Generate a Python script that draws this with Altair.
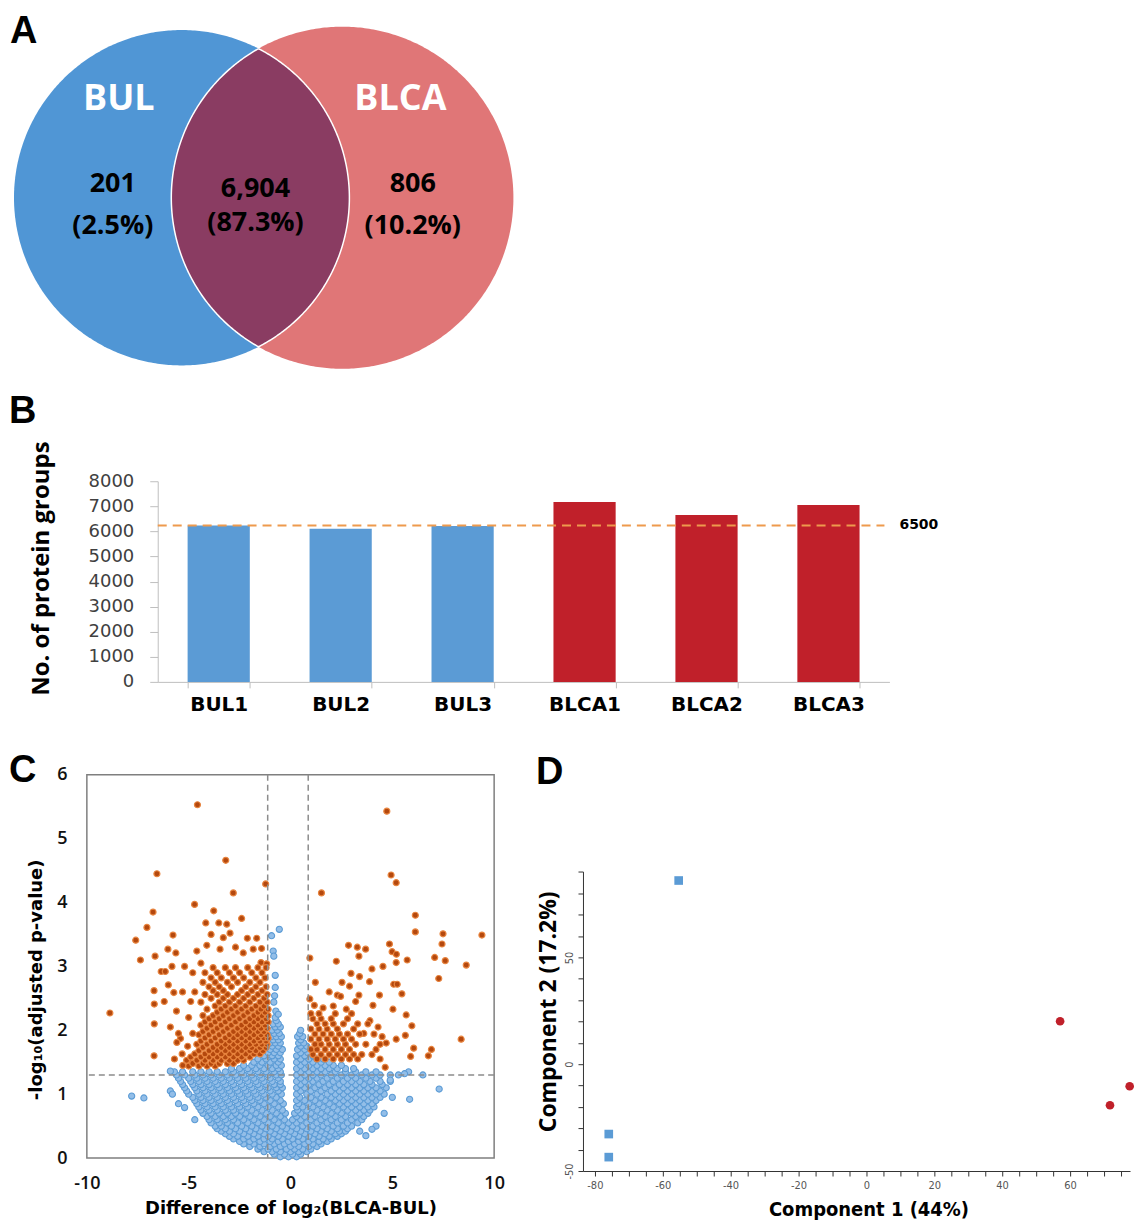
import numpy as np
import pandas as pd
import altair as alt

# ---------------- shared ----------------
PANEL_LETTERS = ["A", "B", "C", "D"]
LETTER_FONT = "Liberation Sans"
NARROW_FONT = "Liberation Sans Narrow, DejaVu Sans Condensed, Roboto Condensed, Roboto, sans-serif"
MINUS_FIX = "replace(datum.label, '\u2212', '-')"

# ---------------- Panel A : Venn ----------------
VENN_CX = [0.0, 0.958]          # circle centres (venn units)
VENN_R = [1.0, 1.02]            # circle radii
VENN_FILL = ["#5096D5", "#E07677"]
LENS_FILL = "#8A3C62"
SET_NAMES = ["BUL", "BLCA"]
SET_NAME_X = [-0.375, 1.304]
SET_NAME_Y = [0.589, 0.589]
REGION_COUNTS = ["201", "6,904", "806"]
REGION_PCTS = ["(2.5%)", "(87.3%)", "(10.2%)"]
REGION_X = [-0.411, 0.440, 1.378]
REGION_COUNT_Y = [0.083, 0.054, 0.083]
REGION_PCT_Y = [-0.167, -0.149, -0.167]

# ---------------- Panel B : bars ----------------
SAMPLES = ["BUL1", "BUL2", "BUL3", "BLCA1", "BLCA2", "BLCA3"]
SAMPLE_GROUP = ["BUL", "BUL", "BUL", "BLCA", "BLCA", "BLCA"]
PROTEIN_GROUPS = [6240, 6110, 6220, 7170, 6650, 7050]
BAR_COLORS = ["#5B9BD5", "#C0202A"]
REF_LINE_VALUE = [6240]
REF_LINE_TEXT = ["6500"]
B_TICKS = [0, 1000, 2000, 3000, 4000, 5000, 6000, 7000, 8000]

# ---------------- Panel C : volcano ----------------
VOLCANO_XLINES = [-1.12, 0.87]
VOLCANO_YLINE = [1.30]
ORANGE_SPARSE = [
    (-4.57, 5.53), (4.73, 5.43), (-3.18, 4.66), (-6.56, 4.45), (-1.22, 4.29), (4.94, 4.43),
    (5.19, 4.31), (-2.81, 4.15), (1.52, 4.15), (-4.71, 3.97), (-3.77, 3.87), (-6.75, 3.85),
    (-7.05, 3.61), (6.13, 3.80), (6.13, 3.54), (9.40, 3.49), (7.49, 3.51), (7.44, 3.35),
    (-7.60, 3.41), (-7.37, 3.10), (7.08, 3.14), (7.60, 3.09), (8.63, 3.02), (7.28, 2.81),
    (-8.87, 2.27), (8.38, 1.86), (6.92, 1.70), (6.77, 1.60), (-6.70, 1.60), (-6.69, 2.10),
    (-6.69, 2.41), (-6.70, 2.62), (-6.65, 3.16), (-6.35, 2.92), (-6.15, 2.92), (-5.77, 3.49),
    (-6.02, 3.27), (-5.63, 3.21), (-5.82, 3.00), (-6.00, 2.71), (-5.73, 2.59), (-5.40, 1.87),
    (-5.58, 1.81), (-5.32, 1.63), (-5.29, 1.45), (-5.00, 1.53), (-4.60, 3.24), (-4.16, 3.68),
    (-3.52, 3.68), (-3.13, 3.66), (-2.97, 3.52), (-2.40, 3.75), (-3.46, 3.27), (-4.11, 3.33),
    (-2.12, 3.44), (-1.66, 3.44), (-1.83, 3.27), (-1.42, 3.28), (-2.32, 3.21), (-1.45, 3.06),
    (-1.17, 3.04),
    (0.95, 3.13), (2.25, 3.08), (2.85, 3.33), (3.28, 3.30), (3.69, 3.27), (3.36, 3.16),
    (4.86, 3.35), (4.99, 3.23), (5.20, 3.19), (5.19, 3.06), (5.73, 3.10), (4.00, 2.96),
    (4.54, 3.00), (2.97, 2.89), (3.39, 2.84), (3.88, 2.76), (1.22, 2.75), (2.53, 2.75),
    (2.90, 2.69), (5.07, 2.72), (5.24, 2.72), (4.37, 2.55), (5.47, 2.57), (2.30, 2.55),
    (2.46, 2.53), (3.36, 2.55), (0.95, 2.49), (1.17, 2.39), (2.10, 2.38), (2.74, 2.33),
    (4.05, 2.39), (5.03, 2.33), (5.68, 2.24), (5.96, 2.07), (5.64, 1.92), (5.19, 1.86),
    (4.70, 1.80), (6.05, 1.72), (5.90, 1.59), (4.65, 1.42),
    (-5.60, 2.30), (-5.30, 2.60), (-5.00, 2.20), (-4.80, 2.90), (-5.50, 1.95), (-5.05, 1.75),
    (-6.20, 2.45), (-5.90, 2.05), (-5.20, 3.00), (-4.90, 2.45), (-5.70, 1.55), (-4.40, 3.05),
    (-3.90, 3.50), (-3.30, 3.45), (-2.70, 3.30), (-4.80, 1.95), (-4.70, 2.60),
    (3.90, 2.15), (3.60, 1.95), (4.20, 1.70), (4.40, 1.55), (3.20, 2.45), (1.90, 2.60),
    (1.60, 2.35), (4.30, 2.05), (4.50, 1.90),
]
ORANGE_ROWS = [
    (1.44, [-5.0, -4.5, -4.1, -3.7]),
    (1.48, [-4.8, -4.3, -3.9, -3.5, -3.1, -2.8]),
    (1.53, [-5.1, -4.6, -4.2, -3.8, -3.4, -3.0, -2.6, -2.3]),
    (1.58, [-4.9, -4.4, -4.0, -3.6, -3.2, -2.8, -2.4, -2.0]),
    (1.63, [-4.7, -4.2, -3.8, -3.4, -3.0, -2.6, -2.2, -1.8, -1.5]),
    (1.68, [-4.5, -4.0, -3.6, -3.2, -2.8, -2.4, -2.0, -1.7, -1.35]),
    (1.73, [-4.3, -3.8, -3.4, -3.0, -2.6, -2.2, -1.9, -1.5, -1.2]),
    (1.78, [-4.6, -4.1, -3.6, -3.2, -2.8, -2.4, -2.0, -1.7, -1.4, -1.15]),
    (1.83, [-4.4, -3.9, -3.4, -3.0, -2.6, -2.2, -1.8, -1.5, -1.2]),
    (1.88, [-4.2, -3.7, -3.2, -2.8, -2.4, -2.0, -1.6, -1.3, -1.1]),
    (1.93, [-4.5, -4.0, -3.5, -3.0, -2.6, -2.2, -1.8, -1.45, -1.15]),
    (1.98, [-4.3, -3.8, -3.3, -2.8, -2.4, -2.0, -1.6, -1.3]),
    (2.03, [-4.1, -3.6, -3.1, -2.6, -2.2, -1.8, -1.45, -1.15]),
    (2.08, [-4.4, -3.9, -3.4, -2.9, -2.4, -2.0, -1.6, -1.25]),
    (2.13, [-4.2, -3.7, -3.2, -2.7, -2.2, -1.8, -1.4, -1.1]),
    (2.18, [-4.0, -3.5, -3.0, -2.5, -2.0, -1.6, -1.2]),
    (2.23, [-4.3, -3.8, -3.3, -2.8, -2.3, -1.8, -1.4, -1.1]),
    (2.28, [-3.6, -3.1, -2.6, -2.1, -1.6, -1.25]),
    (2.33, [-4.1, -3.4, -2.9, -2.4, -1.9, -1.45, -1.1]),
    (2.38, [-3.7, -3.2, -2.7, -2.2, -1.7, -1.3]),
    (2.44, [-4.4, -3.5, -3.0, -2.5, -2.0, -1.5, -1.15]),
    (2.50, [-3.9, -3.3, -2.8, -2.3, -1.8, -1.3]),
    (2.56, [-4.2, -3.6, -3.1, -2.6, -2.1, -1.6, -1.15]),
    (2.62, [-3.8, -3.3, -2.4, -1.9, -1.4]),
    (2.68, [-4.0, -3.5, -2.9, -2.2, -1.7, -1.2]),
    (2.75, [-4.3, -3.7, -3.1, -2.6, -2.0, -1.5]),
    (2.82, [-3.9, -3.4, -2.8, -2.3, -1.7, -1.25]),
    (2.90, [-4.2, -3.6, -3.0, -2.5, -1.9, -1.4]),
    (2.98, [-3.8, -3.2, -2.7, -2.1, -1.6, -1.2]),
    (1.55, [1.3, 1.7, 2.1, 2.5, 2.9, 3.3]),
    (1.62, [1.1, 1.5, 1.9, 2.3, 2.7, 3.1, 3.5, 4.0]),
    (1.70, [1.0, 1.3, 1.7, 2.1, 2.5, 2.9]),
    (1.78, [1.2, 1.5, 1.9, 2.3, 2.7, 3.2, 3.7, 4.4]),
    (1.86, [1.0, 1.4, 1.8, 2.2, 2.6, 3.0]),
    (1.94, [1.2, 1.6, 2.0, 2.4, 2.8, 3.4, 4.1]),
    (2.02, [1.0, 1.4, 1.8, 2.3, 3.1]),
    (2.10, [1.3, 1.7, 2.1, 2.6, 3.3, 3.8]),
    (2.18, [1.1, 1.5, 2.0, 2.8]),
    (2.26, [1.0, 1.4, 2.2, 3.0]),
]
BLUE_ROWS = [
    (0.02, [-0.5, -0.1, 0.3]),
    (0.06, [-0.8, -0.3, 0.1, 0.5]),
    (0.10, [-1.3, -0.9, -0.5, 0.0, 0.4, 0.8]),
    (0.14, [-1.6, -1.1, -0.7, -0.2, 0.2, 0.6, 1.0]),
    (0.18, [-2.0, -1.5, -1.0, -0.5, 0.0, 0.4, 0.9, 1.3]),
    (0.22, [-2.3, -1.8, -1.3, -0.8, -0.3, 0.2, 0.7, 1.1, 1.5]),
    (0.26, [-2.5, -2.0, -1.5, -1.0, -0.6, -0.1, 0.4, 0.9, 1.4, 1.8]),
    (0.30, [-2.8, -2.3, -1.8, -1.3, -0.9, -0.4, 0.1, 0.6, 1.1, 1.6, 2.0]),
    (0.34, [-3.0, -2.6, -2.1, -1.6, -1.1, -0.6, -0.1, 0.4, 0.9, 1.4, 1.9, 2.3]),
    (0.38, [-3.2, -2.8, -2.3, -1.8, -1.3, -0.8, -0.3, 0.2, 0.7, 1.2, 1.7, 2.2, 2.5]),
    (0.42, [-3.4, -3.0, -2.5, -2.0, -1.5, -1.0, -0.5, 0.0, 0.5, 1.0, 1.5, 2.0, 2.4, 2.7]),
    (0.46, [-3.6, -3.2, -2.7, -2.2, -1.7, -1.2, -0.7, -0.2, 0.3, 0.8, 1.3, 1.8, 2.3, 2.8]),
    (0.50, [-3.7, -3.4, -2.9, -2.4, -1.9, -1.4, -0.9, -0.4, 0.1, 0.6, 1.1, 1.6, 2.1, 2.6, 3.0]),
    (0.55, [-3.9, -3.5, -3.1, -2.6, -2.1, -1.6, -1.1, -0.6, -0.1, 0.3, 0.8, 1.3, 1.8, 2.3, 2.8, 3.3]),
    (0.60, [-4.0, -3.6, -3.2, -2.8, -2.3, -1.8, -1.3, -0.8, -0.3, 0.1, 0.5, 1.0, 1.5, 2.0, 2.5, 3.0, 3.5]),
    (0.65, [-4.1, -3.7, -3.3, -2.9, -2.5, -2.0, -1.5, -1.0, -0.5, 0.3, 0.7, 1.2, 1.7, 2.2, 2.7, 3.2, 3.6]),
    (0.70, [-4.3, -3.9, -3.5, -3.1, -2.7, -2.2, -1.7, -1.2, -0.7, -0.25, 0.2, 0.5, 1.0, 1.5, 2.0, 2.5, 3.0, 3.4, 3.8]),
    (0.75, [-4.4, -4.0, -3.6, -3.2, -2.8, -2.4, -1.9, -1.4, -0.9, -0.4, 0.35, 0.8, 1.3, 1.8, 2.3, 2.8, 3.2, 3.6, 3.9]),
    (0.80, [-4.5, -4.1, -3.7, -3.3, -2.9, -2.5, -2.1, -1.6, -1.1, -0.6, 0.3, 0.6, 1.1, 1.6, 2.1, 2.6, 3.0, 3.4, 3.8, 4.1]),
    (0.85, [-4.6, -4.2, -3.8, -3.4, -3.0, -2.6, -2.2, -1.8, -1.3, -0.8, -0.35, 0.4, 0.9, 1.4, 1.9, 2.4, 2.8, 3.2, 3.6, 4.0]),
    (0.90, [-4.7, -4.3, -3.9, -3.5, -3.1, -2.7, -2.3, -1.9, -1.5, -1.0, -0.5, 0.3, 0.7, 1.2, 1.7, 2.2, 2.6, 3.0, 3.4, 3.8, 4.2]),
    (0.95, [-4.8, -4.4, -4.0, -3.6, -3.2, -2.8, -2.4, -2.0, -1.6, -1.2, -0.7, 0.45, 1.0, 1.5, 2.0, 2.4, 2.8, 3.2, 3.6, 4.0, 4.4]),
    (1.00, [-5.0, -4.5, -4.1, -3.7, -3.3, -2.9, -2.5, -2.1, -1.7, -1.3, -0.9, -0.45, 0.3, 0.8, 1.3, 1.8, 2.2, 2.6, 3.0, 3.4, 3.8, 4.2, 4.6]),
    (1.05, [-5.1, -4.6, -4.2, -3.8, -3.4, -3.0, -2.6, -2.2, -1.8, -1.4, -1.0, -0.6, 0.5, 1.0, 1.5, 2.0, 2.4, 2.8, 3.2, 3.6, 4.0, 4.4]),
    (1.10, [-5.2, -4.7, -4.3, -3.9, -3.5, -3.1, -2.7, -2.3, -1.9, -1.5, -1.1, -0.7, -0.4, 0.3, 0.7, 1.2, 1.7, 2.2, 2.6, 3.0, 3.4, 3.8, 4.2, 4.7]),
    (1.15, [-5.3, -4.8, -4.4, -4.0, -3.6, -3.2, -2.8, -2.4, -2.0, -1.6, -1.2, -0.8, -0.5, 0.5, 0.9, 1.4, 1.9, 2.4, 2.8, 3.2, 3.6, 4.0, 4.5]),
    (1.20, [-5.4, -4.9, -4.5, -4.1, -3.7, -3.3, -2.9, -2.5, -2.1, -1.7, -1.3, -0.9, -0.5, 0.3, 0.7, 1.1, 1.6, 2.1, 2.6, 3.0, 3.4, 3.9, 4.4, 4.9]),
    (1.25, [-5.5, -5.0, -4.6, -4.2, -3.8, -3.4, -3.0, -2.6, -2.2, -1.8, -1.4, -1.0, -0.6, 0.5, 0.9, 1.3, 1.8, 2.3, 2.8, 3.2, 3.7, 4.2]),
    (1.30, [-5.6, -5.2, -4.7, -4.3, -3.9, -3.5, -3.1, -2.7, -2.3, -1.9, -1.5, -1.1, -0.7, -0.45, 0.3, 0.7, 1.1, 1.5, 2.0, 2.5, 3.0, 3.5, 4.0, 4.4, 4.9, 5.3]),
    (1.35, [-5.7, -5.3, -4.8, -4.4, -4.0, -3.6, -3.2, -2.8, -2.4, -2.0, -1.6, -1.2, -0.8, -0.5, 0.5, 0.9, 1.3, 1.7, 2.2, 2.7, 3.2, 3.7, 4.2]),
    (1.40, [-2.9, -2.5, -2.1, -1.7, -1.3, -0.9, -0.6, 0.3, 0.7, 1.1, 1.5, 1.9, 2.3, 2.7, 3.1]),
    (1.45, [-2.3, -1.9, -1.5, -1.1, -0.7, -0.45, 0.5, 0.9, 1.3, 1.7, 2.1, 2.5]),
    (1.50, [-1.8, -1.4, -1.0, -0.6, 0.3, 0.7, 1.1, 1.5, 1.9]),
    (1.55, [-1.6, -1.2, -0.8, -0.5, 0.5, 0.9, 1.3, 1.6]),
    (1.60, [-1.3, -0.9, -0.6, 0.3, 0.7, 1.1]),
    (1.65, [-1.1, -0.8, -0.5, 0.5, 0.85]),
    (1.70, [-1.0, -0.7, -0.4, 0.35, 0.7]),
    (1.75, [-0.9, -0.6, 0.5, 0.8]),
    (1.80, [-1.0, -0.75, -0.5, 0.4, 0.65]),
    (1.85, [-0.85, -0.6, 0.5]),
    (1.90, [-0.95, -0.7, -0.45, 0.35, 0.6]),
    (1.95, [-0.8, -0.55, 0.45]),
    (2.00, [-0.9, -0.65, 0.5]),
    (2.05, [-0.75, -0.5]),
    (2.10, [-0.85, -0.6]),
    (2.15, [-0.7]),
    (2.20, [-0.75]),
]
BLUE_SPARSE = [
    (-0.55, 3.58), (-0.93, 3.48), (-0.85, 3.24), (-0.82, 3.16), (-0.75, 2.86), (-0.75, 2.67),
    (-0.78, 2.54), (-0.82, 2.44), (-0.72, 2.30), (-0.60, 2.25),
    (-7.8, 0.97), (-7.2, 0.94), (-5.9, 1.05), (-5.8, 1.00), (-5.9, 1.36), (-5.2, 0.79),
    (-4.7, 0.60), (-5.5, 0.85), (7.3, 1.08), (6.5, 1.30), (5.85, 0.92), (5.8, 1.35),
    (4.2, 0.50), (4.6, 0.70), (5.0, 0.95), (5.6, 1.32), (4.9, 1.22), (4.0, 0.45),
    (3.7, 0.35), (3.4, 0.42),
]

# ---------------- Panel D : PCA ----------------
PCA_GROUP = ["BUL", "BUL", "BUL", "BLCA", "BLCA", "BLCA"]
PCA_C1 = [-55.3, -75.9, -75.9, 57.1, 71.8, 77.6]
PCA_C2 = [86.0, -32.7, -43.5, 20.1, -19.2, -10.3]
PCA_COLORS = ["#2F6DBA", "#E3161E"]
PCA_SHAPES = ["square", "circle"]

# =====================================================================
# Panel A
t = np.linspace(0.0, np.pi, 241)


def circle_frame(cx, r):
    xs = cx - r * np.cos(t)
    h = np.sqrt(np.clip(r ** 2 - (xs - cx) ** 2, 0, None))
    return pd.DataFrame({"x": xs, "y": h, "y2": -h})


lx0 = VENN_CX[1] - VENN_R[1]
lx1 = VENN_CX[0] + VENN_R[0]
lxs = (lx0 + lx1) / 2 - (lx1 - lx0) / 2 * np.cos(t)
lh = np.minimum(
    np.sqrt(np.clip(VENN_R[0] ** 2 - (lxs - VENN_CX[0]) ** 2, 0, None)),
    np.sqrt(np.clip(VENN_R[1] ** 2 - (lxs - VENN_CX[1]) ** 2, 0, None)),
)
lens_df = pd.DataFrame({"x": lxs, "y": lh, "y2": -lh})

vx = alt.Scale(domain=[-0.5655, 2.0655], nice=False, zero=False)
vy = alt.Scale(domain=[-1.018, 1.125], nice=False, zero=False)


def venn_area(df, fill, stroke_w=0):
    return alt.Chart(df).mark_area(
        fill=fill, opacity=1, stroke="white", strokeWidth=stroke_w
    ).encode(
        x=alt.X("x:Q", scale=vx, axis=None),
        y=alt.Y("y:Q", scale=vy, axis=None),
        y2="y2:Q",
    )


names_df = pd.DataFrame({"name": SET_NAMES, "x": SET_NAME_X, "y": SET_NAME_Y})
counts_df = pd.DataFrame({"t": REGION_COUNTS, "x": REGION_X, "y": REGION_COUNT_Y})
pcts_df = pd.DataFrame({"t": REGION_PCTS, "x": REGION_X, "y": REGION_PCT_Y})


def venn_text(df, field, size, color):
    return alt.Chart(df).mark_text(
        font="Open Sans", fontWeight="bold", fontSize=size, color=color, baseline="middle"
    ).encode(x=alt.X("x:Q", scale=vx, axis=None), y=alt.Y("y:Q", scale=vy, axis=None),
             text=f"{field}:N")


def letter(ch, x, y):
    return alt.Chart(pd.DataFrame({"t": [ch]})).mark_text(
        font=LETTER_FONT, fontWeight="bold", fontSize=38, color="black",
        align="left", baseline="top",
    ).encode(text="t:N", x=alt.value(x), y=alt.value(y))


panelA = alt.layer(
    venn_area(circle_frame(VENN_CX[0], VENN_R[0]), VENN_FILL[0]),
    venn_area(circle_frame(VENN_CX[1], VENN_R[1]), VENN_FILL[1]),
    venn_area(lens_df, LENS_FILL, 1.5),
    venn_text(names_df, "name", 36, "white"),
    venn_text(counts_df, "t", 27, "black"),
    venn_text(pcts_df, "t", 27, "black"),
    letter(PANEL_LETTERS[0], -77, 4),
).properties(width=442, height=360)

# =====================================================================
# Panel B  (plot origin shared with panels A and C; axis drawn 71 px inside)
b_df = pd.DataFrame({"sample": SAMPLES, "group": SAMPLE_GROUP, "count": PROTEIN_GROUPS})
ref_df = pd.DataFrame({"v": REF_LINE_VALUE, "t": REF_LINE_TEXT})
b_y = alt.Scale(domain=[0, 8000], nice=False)
b_yaxis = alt.Axis(
    title="No. of protein groups", values=B_TICKS, format="d", grid=False, offset=-71,
    labelOverlap=False, tickSize=8, labelPadding=16, labelFont="DejaVu Sans",
    labelFontSize=18, labelColor="#404040", domainColor="#BFBFBF", tickColor="#BFBFBF",
    titleFont="Open Sans", titleFontWeight="bold", titleFontSize=24, titleColor="black",
    titlePadding=35, titleY=87,
)

bars = alt.Chart(b_df).mark_bar().encode(
    x=alt.X(
        "sample:N", sort=SAMPLES,
        scale=alt.Scale(paddingInner=0.49, paddingOuter=0.245, range=[71, 804]),
        axis=alt.Axis(
            title=None, labelAngle=0, tickBand="extent", tickSize=6, labelPadding=7,
            labelFont="DejaVu Sans", labelFontWeight="bold", labelFontSize=20, labelColor="black",
            domainColor="#BFBFBF", tickColor="#BFBFBF",
        ),
    ),
    y=alt.Y("count:Q", scale=b_y, axis=b_yaxis),
    color=alt.Color("group:N", scale=alt.Scale(domain=["BUL", "BLCA"], range=BAR_COLORS), legend=None),
)
ref_rule = alt.Chart(ref_df).mark_rule(color="#EE9A4D", strokeDash=[9, 6], strokeWidth=2).encode(
    y=alt.Y("v:Q", scale=b_y, axis=b_yaxis), x=alt.value(71), x2=alt.value(799)
)
ref_text = alt.Chart(ref_df).mark_text(
    font="DejaVu Sans", fontWeight="bold", fontSize=14, color="black", align="left", baseline="middle"
).encode(y=alt.Y("v:Q", scale=b_y, axis=b_yaxis), x=alt.value(814), text="t:N")

panelB = alt.layer(bars, ref_rule, ref_text, letter(PANEL_LETTERS[1], -78, -88)).properties(
    width=804, height=201
)

# =====================================================================
# Panel C
orange_pts = list(ORANGE_SPARSE) + [(x, y) for y, xs in ORANGE_ROWS for x in xs]
blue_pts = [(x, y) for y, xs in BLUE_ROWS for x in xs] + list(BLUE_SPARSE)
orange_df = pd.DataFrame(orange_pts, columns=["fc", "p"])
blue_df = pd.DataFrame(blue_pts, columns=["fc", "p"])

cx = alt.Scale(domain=[-10, 10], nice=False, zero=False)
cy = alt.Scale(domain=[0, 6], nice=False, zero=False)
c_xaxis = alt.Axis(
    title="Difference of log₂(BLCA-BUL)", values=[-10, -5, 0, 5, 10], format="d",
    labelExpr=MINUS_FIX, grid=False,
    ticks=False, tickSize=0, domain=False, labelPadding=17, labelFont="Open Sans",
    labelFontWeight=600, labelFontSize=18, labelColor="#111111", labelFlush=False,
    titleFont="DejaVu Sans", titleFontWeight="bold", titleFontSize=18, titleColor="black",
    titlePadding=7,
)
c_yaxis = alt.Axis(
    title="-log₁₀(adjusted p-value)", values=[0, 1, 2, 3, 4, 5, 6], format="d", grid=False,
    ticks=False, tickSize=0, domain=False, labelPadding=20, labelFont="Open Sans",
    labelFontWeight=600, labelFontSize=18, labelColor="#111111", labelFlush=False,
    titleFont="DejaVu Sans", titleFontWeight="bold", titleFontSize=18, titleColor="black",
    titlePadding=11, titleY=205,
)


def cxy():
    return dict(x=alt.X("fc:Q", scale=cx, axis=c_xaxis), y=alt.Y("p:Q", scale=cy, axis=c_yaxis))


blue_layer = alt.Chart(blue_df).mark_circle(
    size=38, fill="#93BEE8", stroke="#5B9BD5", strokeWidth=1.1, opacity=1
).encode(**cxy())
orange_layer = alt.Chart(orange_df).mark_circle(
    size=36, fill="#B4480E", stroke="#E8843E", strokeWidth=1.2, opacity=1
).encode(**cxy())
vrules = alt.Chart(pd.DataFrame({"fc": VOLCANO_XLINES})).mark_rule(
    color="#8C8C8C", strokeDash=[6, 4], strokeWidth=1.5
).encode(x=alt.X("fc:Q", scale=cx, axis=c_xaxis))
hrule = alt.Chart(pd.DataFrame({"p": VOLCANO_YLINE})).mark_rule(
    color="#8C8C8C", strokeDash=[6, 4], strokeWidth=1.5
).encode(y=alt.Y("p:Q", scale=cy, axis=c_yaxis))

panelC = alt.layer(
    blue_layer, orange_layer, vrules, hrule, letter(PANEL_LETTERS[2], -78, -23)
).properties(
    width=408, height=384,
    view=alt.ViewBackground(stroke="#7F7F7F", strokeWidth=1.5),
)

# =====================================================================
# Panel D  (plot top shared with panel C; y axis drawn in the lower 300 px)
d_df = pd.DataFrame({"g": PCA_GROUP, "c1": PCA_C1, "c2": PCA_C2})
dx = alt.Scale(domain=[-83.5, 77.7], nice=False, zero=False)
dy = alt.Scale(domain=[-50, 90.2], nice=False, zero=False, range=[397, 97])
pca = alt.Chart(d_df).mark_point(filled=True, opacity=1, size=75).encode(
    x=alt.X(
        "c1:Q", scale=dx,
        axis=alt.Axis(
            title="Component 1 (44%)", values=list(range(-80, 80, 5)),
            labelExpr="datum.value % 20 === 0 ? " + MINUS_FIX + " : ''", grid=False,
            tickSize=5, tickColor="#333333", domainColor="#333333", labelPadding=4,
            labelFont=NARROW_FONT, labelFontSize=11, labelColor="#555555",
            labelFlush=False, titleFont=NARROW_FONT, titleFontWeight="bold",
            titleFontSize=20, titleColor="black", titlePadding=9, titleX=286,
        ),
    ),
    y=alt.Y(
        "c2:Q", scale=dy,
        axis=alt.Axis(
            title="Component 2 (17.2%)", values=list(range(-50, 91, 10)),
            labelExpr="datum.value % 50 === 0 ? " + MINUS_FIX + " : ''", grid=False,
            tickSize=5, tickColor="#333333", domainColor="#333333", labelPadding=3,
            labelAngle=270, labelAlign="center", labelBaseline="bottom",
            labelFont=NARROW_FONT, labelFontSize=11, labelColor="#555555",
            labelFlush=False, titleFont="Open Sans", titleFontWeight="bold",
            titleFontSize=23, titleColor="black", titlePadding=4, titleY=237,
        ),
    ),
    color=alt.Color("g:N", scale=alt.Scale(domain=["BUL", "BLCA"], range=PCA_COLORS), legend=None),
    shape=alt.Shape("g:N", scale=alt.Scale(domain=["BUL", "BLCA"], range=PCA_SHAPES), legend=None),
)
panelD = alt.layer(pca, letter(PANEL_LETTERS[3], -47, -21)).properties(width=548, height=397)

# =====================================================================
row3 = alt.concat(panelC, panelD, columns=2, spacing=30, align="none")
lower = alt.concat(panelB, row3, columns=1, spacing=36, align="none")
chart = alt.concat(panelA, lower, columns=1, spacing=24, align="none").properties(
    padding=0
).configure_view(strokeWidth=0)

chart.save("out.html", embed_options={"renderer": "svg", "actions": False})
